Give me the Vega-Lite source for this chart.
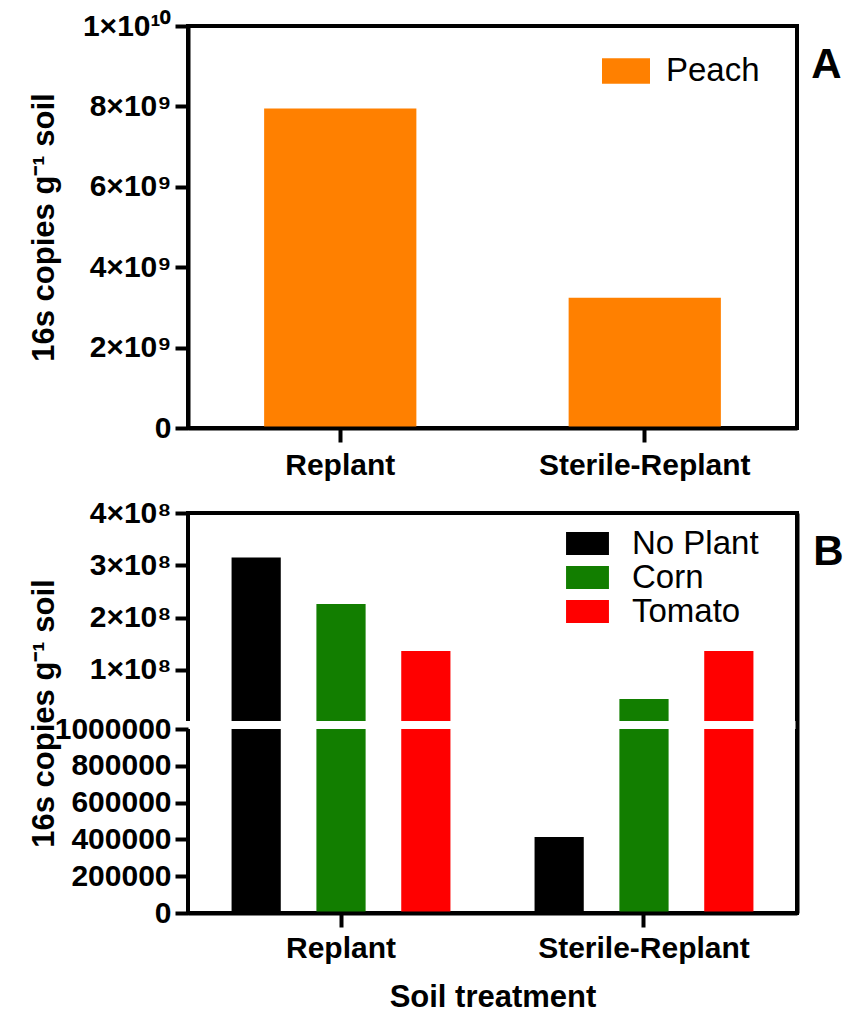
{
  "$schema": "https://vega.github.io/schema/vega-lite/v6.json",
  "background": "white",
  "padding": {"left": 25, "top": 9, "right": 0, "bottom": 0},
  "datasets": {
    "peach": [
      {"treatment": "Replant", "crop": "Peach", "copies": 7950000000},
      {"treatment": "Sterile-Replant", "crop": "Peach", "copies": 3240000000}
    ],
    "plants": [
      {"treatment": "Replant", "plant": "No Plant", "copies": 315000000},
      {"treatment": "Replant", "plant": "Corn", "copies": 226000000},
      {"treatment": "Replant", "plant": "Tomato", "copies": 136000000},
      {"treatment": "Sterile-Replant", "plant": "No Plant", "copies": 413000},
      {"treatment": "Sterile-Replant", "plant": "Corn", "copies": 44000000},
      {"treatment": "Sterile-Replant", "plant": "Tomato", "copies": 136000000}
    ]
  },
  "config": {
    "font": "Liberation Sans",
    "axis": {
      "labelFont": "Liberation Sans", "labelFontSize": 30, "labelFontWeight": "bold", "labelColor": "black",
      "titleFont": "Liberation Sans", "titleFontSize": 31, "titleFontWeight": "bold", "titleColor": "black",
      "domainColor": "black", "domainWidth": 4, "tickColor": "black", "tickWidth": 4, "tickSize": 13,
      "grid": false, "labelPadding": 4, "labelLimit": 0
    },
    "legend": {
      "labelFont": "Liberation Sans", "labelFontSize": 33, "labelFontWeight": "normal", "labelColor": "black",
      "symbolStrokeWidth": 0, "symbolOpacity": 1, "labelOffset": 14, "rowPadding": 0, "padding": 0, "labelLimit": 0
    },
    "title": {"font": "Liberation Sans", "fontSize": 42, "fontWeight": "bold", "color": "black"},
    "concat": {"spacing": 14}
  },
  "resolve": {
    "scale": {"x": "independent", "y": "independent", "color": "independent"},
    "legend": {"color": "independent"}
  },
  "vconcat": [
    {
      "width": 609,
      "height": 402,
      "view": {"stroke": "black", "strokeWidth": 4},
      "title": {"text": "A", "orient": "right", "angle": 0, "anchor": "start", "align": "left", "baseline": "top", "offset": -16, "dy": 34},
      "data": {"name": "peach"},
      "mark": {"type": "bar"},
      "encoding": {
        "x": {
          "field": "treatment", "type": "nominal", "sort": ["Replant", "Sterile-Replant"],
          "scale": {"paddingInner": 0.5, "paddingOuter": 0.25},
          "axis": {"title": null, "labelAngle": 0, "domain": true, "zindex": 1, "labelPadding": 8, "tickSize": 14}
        },
        "y": {
          "field": "copies", "type": "quantitative",
          "scale": {"domain": [0, 10000000000], "nice": false},
          "axis": {
            "values": [0, 2000000000, 4000000000, 6000000000, 8000000000, 10000000000],
            "labelExpr": "datum.value == 0 ? '0' : datum.value == 10000000000 ? '1×10¹⁰' : format(datum.value / 1000000000, 'd') + '×10⁹'",
            "title": "16s copies g⁻¹ soil", "titleX": -144, "titleBaseline": "middle", "zindex": 1
          }
        },
        "color": {
          "field": "crop", "type": "nominal",
          "scale": {"domain": ["Peach"], "range": ["#FF8000"]},
          "legend": {"title": null, "orient": "none", "legendX": 414, "legendY": 21, "labelOffset": 16, "symbolType": "M-1,-0.53H1V0.53H-1Z", "symbolSize": 2304}
        }
      }
    },
    {
      "width": 609,
      "height": 400,
      "view": {"stroke": "black", "strokeWidth": 4},
      "title": {"text": "B", "orient": "right", "angle": 0, "anchor": "start", "align": "left", "baseline": "top", "offset": -16, "dy": 34},
      "data": {"name": "plants"},
      "layer": [
        {
          "mark": {"type": "bar"},
          "encoding": {
            "x": {
              "field": "treatment", "type": "nominal", "sort": ["Replant", "Sterile-Replant"],
              "scale": {"paddingInner": 0.16, "paddingOuter": 0.085},
              "axis": {"title": "Soil treatment", "labelAngle": 0, "domain": true, "zindex": 1, "labelPadding": 6, "tickSize": 14, "titlePadding": 19}
            },
            "xOffset": {
              "field": "plant", "type": "nominal", "sort": ["No Plant", "Corn", "Tomato"],
              "scale": {"paddingInner": 0.42, "paddingOuter": 0.21}
            },
            "y": {
              "field": "copies", "type": "quantitative",
              "scale": {"domain": [0, 1000000, 2000000, 400000000], "range": [400, 216, 208, 0], "nice": false},
              "axis": {
                "values": [0, 200000, 400000, 600000, 800000, 1000000, 100000000, 200000000, 300000000, 400000000],
                "labelExpr": "datum.value >= 100000000 ? format(datum.value / 100000000, 'd') + '×10⁸' : format(datum.value, 'd')",
                "title": "16s copies g⁻¹ soil", "titleX": -144, "titleBaseline": "middle", "domain": false, "zindex": 1
              }
            },
            "color": {
              "field": "plant", "type": "nominal",
              "scale": {"domain": ["No Plant", "Corn", "Tomato"], "range": ["#000000", "#127E00", "#FF0000"]},
              "legend": {"title": null, "orient": "none", "legendX": 383, "legendY": 14, "labelOffset": 28, "rowPadding": 0, "symbolType": "M-1.43,-0.77H1.43V0.77H-1.43Z", "symbolSize": 900}
            }
          }
        },
        {
          "mark": {"type": "rect", "fill": "white", "stroke": "white", "strokeWidth": 4},
          "encoding": {
            "y": {
              "datum": 1250000,
              "axis": {"orient": "right", "labels": false, "ticks": false, "domain": true, "domainWidth": 4, "zindex": 1, "title": null, "grid": false}
            },
            "y2": {"datum": 1750000}
          }
        }
      ],
      "resolve": {"axis": {"y": "independent"}}
    }
  ]
}
